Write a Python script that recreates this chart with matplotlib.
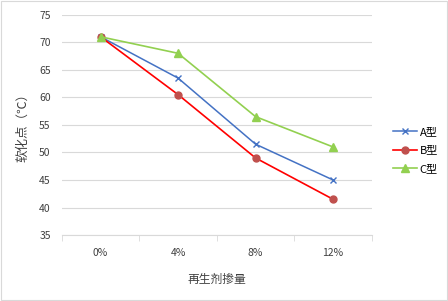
import matplotlib
matplotlib.use("Agg")
import matplotlib.pyplot as plt

plt.rcParams['font.family'] = ['Noto Sans CJK SC', 'DejaVu Sans']

categories = ['0%', '4%', '8%', '12%']
series_a = [71, 63.5, 51.5, 45]
series_b = [71, 60.5, 49, 41.5]
series_c = [71, 68, 56.5, 51]
labels = ['A型', 'B型', 'C型']
yticks = [35, 40, 45, 50, 55, 60, 65, 70, 75]

fig = plt.figure(figsize=(4.48, 3.01), dpi=100)
ax = fig.add_axes([0.138, 0.219, 0.692, 0.732])

x = list(range(len(categories)))
ax.plot(x, series_a, color='#4472C4', lw=1.1, marker='x', ms=4.5, mec='#4472C4', mew=1.0, label=labels[0], zorder=3)
ax.plot(x, series_b, color='#FF0000', lw=1.2, marker='o', ms=5, mfc='#C0504D', mec='#C0504D', label=labels[1], zorder=3)
ax.plot(x, series_c, color='#92D050', lw=1.2, marker='^', ms=5.5, mfc='#92D050', mec='#92D050', label=labels[2], zorder=3)

ax.set_xlim(-0.5, len(categories) - 0.5)
ax.set_ylim(35, 75)
ax.set_yticks(yticks)
ax.set_xticks(x)
ax.set_xticklabels(categories)
ax.grid(axis='y', color='#D9D9D9', lw=0.8)
ax.set_axisbelow(True)
for s in ['top', 'right', 'left']:
    ax.spines[s].set_visible(False)
ax.spines['bottom'].set_color('#D9D9D9')
ax.tick_params(axis='y', length=0, labelsize=7.5, pad=8, colors='#404040')
ax.tick_params(axis='x', length=0, labelsize=7.5, pad=9, colors='#404040')
ax.set_xticks([-0.5, 0.5, 1.5, 2.5, 3.5], minor=True)
ax.tick_params(axis='x', which='minor', length=4, color='#D9D9D9')

ax.set_ylabel('软化点（℃）', fontsize=9, color='#404040')
ax.yaxis.set_label_coords(-0.105, 0.5)
ax.set_xlabel('再生剂掺量', fontsize=8.5, color='#404040')
ax.xaxis.set_label_coords(0.5, -0.17)

fig.legend(loc='center left', bbox_to_anchor=(0.855, 0.5), frameon=False, fontsize=8,
           handlelength=2.2, handletextpad=0.2, labelspacing=0.75)

fig.patches.append(plt.Rectangle((0.002, 0.003), 0.995, 0.994, transform=fig.transFigure,
                                 fill=False, edgecolor='#D9D9D9', lw=0.8))
fig.savefig('out.png', dpi=100)
